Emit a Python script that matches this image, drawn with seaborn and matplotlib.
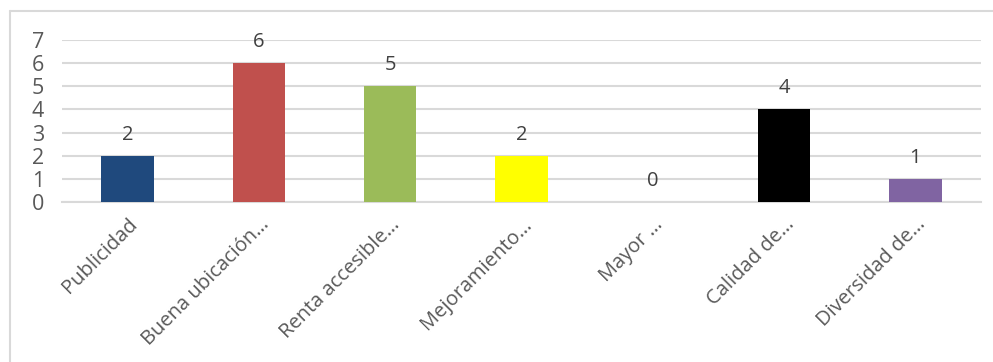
import matplotlib
matplotlib.use("Agg")
import matplotlib.pyplot as plt
from matplotlib.lines import Line2D
import seaborn as sns
import pandas as pd

categorias = ["Publicidad", "Buena ubicación…", "Renta accesible…", "Mejoramiento…",
              "Mayor …", "Calidad de…", "Diversidad de…"]
valores = [2, 6, 5, 2, 0, 4, 1]
colores = ["#1F497D", "#C0504D", "#9BBB59", "#FFFF00", "#4BACC6", "#000000", "#8064A2"]
y_ticks = [0, 1, 2, 3, 4, 5, 6, 7]

sns.set_theme(style="white")
plt.rcParams["font.family"] = ["Open Sans", "DejaVu Sans"]

df = pd.DataFrame({"categoria": categorias, "valor": valores})

fig = plt.figure(figsize=(9.93, 3.62), dpi=100)
ax = fig.add_axes([62 / 993, 1 - 202 / 362, (981 - 62) / 993, (202 - 40) / 362])

sns.barplot(data=df, x="categoria", y="valor", hue="categoria", palette=colores,
            width=0.4, legend=False, ax=ax, saturation=1, zorder=3, linewidth=0)

ax.set_ylim(0, 7)
ax.set_xlim(-0.5, len(categorias) - 0.5)
ax.set_yticks(y_ticks)
ax.yaxis.grid(True, color="#D9D9D9", linewidth=1.5, zorder=0)
ax.set_axisbelow(True)
for s in ["top", "right", "left"]:
    ax.spines[s].set_visible(False)
ax.spines["bottom"].set_color("#D9D9D9")
ax.spines["bottom"].set_linewidth(1.5)

ax.set_xlabel("")
ax.set_ylabel("")
ax.tick_params(axis="y", length=0, pad=13, labelsize=15.5, labelcolor="#595959")
ax.tick_params(axis="x", length=0, pad=9, labelsize=14.5, labelcolor="#595959")
plt.setp(ax.get_xticklabels(), rotation=45, ha="right", rotation_mode="anchor")

for i, v in enumerate(valores):
    ax.annotate(str(v), (i, v), xytext=(0, 8), textcoords="offset points",
                ha="center", va="bottom", fontsize=14.5, color="#404040")

# chart-area border (left and top edges)
fig.add_artist(Line2D([10 / 993, 10 / 993], [0, 1 - 11 / 362], color="#D9D9D9", linewidth=1.5,
                      transform=fig.transFigure))
fig.add_artist(Line2D([10 / 993, 1], [1 - 11 / 362, 1 - 11 / 362], color="#D9D9D9", linewidth=1.5,
                      transform=fig.transFigure))

fig.savefig("out.png", dpi=100)
